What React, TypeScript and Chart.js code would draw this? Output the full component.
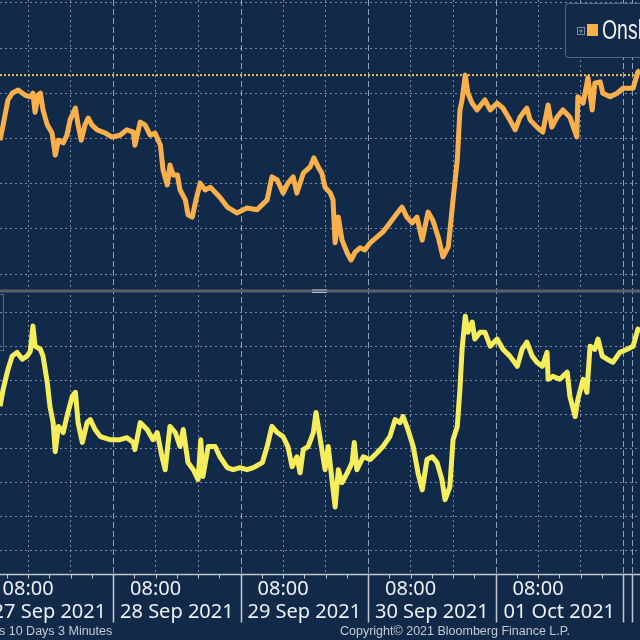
import React, { useEffect, useRef } from 'react';
import { Chart, registerables } from 'chart.js';

Chart.register(...registerables);

// time axis: hours counted from 27 Sep 2021 00:00
const dayLabels = ['27 Sep 2021', '28 Sep 2021', '29 Sep 2021', '30 Sep 2021', '01 Oct 2021'];
const tickTime = '08:00';
const hourMin = 2.7;
const hourMax = 123.2;
const sessionBreak = 121.6;

const onshoreHours = [
  2.7, 3.3, 4.2, 5.0, 6.1, 7.4, 8.4, 8.9, 9.3, 9.9,
  10.3, 10.8, 11.6, 12.5, 13.1, 13.7, 14.6, 15.3, 15.9, 16.9,
  17.4, 18.0, 18.7, 19.3, 20.0, 21.0, 22.5, 23.8, 25.3, 26.6,
  27.8, 28.1, 29.1, 30.0, 31.0, 31.9, 32.9, 33.4, 34.2, 34.7,
  35.3, 36.1, 36.6, 37.6, 38.1, 38.9, 39.6, 40.4, 41.3, 42.3,
  43.2, 44.1, 45.5, 47.3, 49.2, 51.1, 53.0, 53.9, 54.9, 56.0,
  56.9, 57.9, 58.6, 59.8, 61.1, 61.8, 62.6, 63.3, 63.9, 64.9,
  65.4, 65.8, 66.4, 67.1, 68.1, 68.8, 69.6, 70.5, 71.4, 72.4,
  73.7, 74.8, 76.1, 77.5, 78.4, 79.3, 80.3, 81.2, 82.2, 83.3,
  84.2, 85.2, 86.1, 87.1, 88.0, 88.8, 89.3, 89.7, 90.3, 90.8,
  91.6, 92.5, 94.0, 95.0, 96.3, 97.4, 98.7, 99.7, 100.6, 101.9,
  102.5, 103.8, 104.9, 105.9, 106.6, 107.6, 108.7, 110.0, 111.3, 111.5,
  112.5, 113.4, 114.2, 114.7, 115.7, 116.2, 117.6, 118.9, 120.0, 121.9, 122.8, 123.2,
];
const onshoreValues = [
  39.6, 43.0, 48.5, 50.0, 50.7, 49.6, 49.2, 50.0, 45.8, 49.6,
  50.0, 46.3, 43.0, 41.2, 36.3, 39.6, 39.0, 40.7, 44.1, 46.7,
  43.0, 39.6, 43.0, 44.5, 43.0, 41.9, 41.2, 40.3, 40.7, 41.9,
  41.4, 38.5, 43.6, 43.0, 40.7, 41.2, 38.5, 33.0, 29.7, 34.1,
  31.9, 31.9, 28.6, 26.4, 23.1, 22.6, 26.4, 30.1, 28.6, 29.2,
  28.1, 27.0, 24.8, 23.5, 24.6, 24.2, 26.4, 31.5, 30.8, 27.9,
  30.1, 31.5, 27.9, 32.3, 33.7, 35.7, 33.7, 32.3, 29.2, 27.9,
  26.4, 16.9, 22.6, 17.5, 14.6, 13.1, 14.9, 15.8, 15.3, 16.9,
  18.2, 19.3, 21.3, 23.5, 24.8, 22.6, 21.3, 22.6, 17.5, 23.7,
  21.9, 18.2, 13.8, 16.0, 26.4, 35.2, 46.3, 48.5, 54.0, 50.0,
  47.8, 46.3, 48.5, 46.3, 47.8, 46.7, 44.1, 41.9, 44.7, 46.7,
  44.1, 42.5, 41.4, 47.4, 42.5, 44.7, 46.3, 44.7, 40.3, 49.2,
  47.8, 53.4, 46.3, 52.2, 52.5, 50.0, 49.2, 50.0, 51.1, 51.1, 54.7, 55.1,
];
const onshoreRef = 54.0;

const offshoreHours = [
  2.7, 3.3, 4.2, 5.0, 5.9, 6.9, 7.8, 8.4, 8.9, 9.3,
  10.3, 10.8, 11.6, 12.1, 12.7, 13.1, 13.7, 14.6, 15.3, 16.3,
  16.9, 17.4, 18.2, 19.1, 19.7, 20.6, 21.6, 23.4, 25.3, 26.6,
  27.8, 28.1, 29.1, 30.4, 31.5, 32.3, 33.2, 33.8, 34.7, 35.7,
  36.6, 37.2, 38.1, 39.1, 40.0, 40.5, 40.9, 41.9, 43.2, 44.1,
  45.5, 46.6, 47.9, 49.2, 50.4, 52.1, 53.0, 53.9, 54.9, 56.0,
  56.9, 57.7, 58.6, 59.2, 59.8, 60.7, 61.7, 62.2, 63.0, 63.9,
  64.5, 65.2, 65.8, 66.4, 67.1, 68.1, 69.0, 69.4, 69.9, 71.1,
  72.4, 73.7, 74.8, 76.1, 77.1, 78.0, 78.6, 79.5, 80.5, 81.4,
  82.2, 83.1, 84.1, 85.0, 85.9, 86.5, 87.4, 88.0, 88.8, 89.3,
  89.7, 90.3, 90.8, 91.6, 92.1, 93.1, 94.0, 95.0, 96.3, 97.4,
  98.7, 100.1, 101.0, 101.9, 102.9, 103.8, 104.8, 105.7, 105.9, 106.8,
  108.1, 109.5, 110.0, 111.0, 111.5, 112.5, 113.2, 113.8, 114.7, 115.3,
  116.1, 117.0, 118.1, 119.4, 120.8, 121.9, 122.8, 123.2,
];
const offshoreValues = [
  52.4, 57.4, 63.2, 67.1, 68.2, 66.2, 67.1, 68.5, 75.9, 70.0,
  69.1, 67.1, 59.4, 52.4, 47.6, 39.1, 46.5, 44.7, 49.4, 55.3,
  56.5, 47.6, 41.8, 47.6, 48.5, 45.6, 43.5, 42.6, 42.6, 43.2,
  41.8, 39.7, 47.6, 45.6, 42.6, 44.7, 37.6, 33.8, 46.5, 44.7,
  40.6, 45.6, 35.9, 33.8, 30.9, 42.6, 31.8, 40.6, 40.6, 37.6,
  34.4, 33.8, 34.4, 33.8, 34.4, 35.9, 40.6, 46.5, 44.7, 43.5,
  40.6, 34.7, 37.6, 32.9, 39.7, 40.6, 44.7, 50.6, 42.6, 33.8,
  40.6, 30.9, 22.9, 33.8, 30.0, 32.9, 35.9, 41.8, 33.8, 37.6,
  36.8, 38.8, 40.6, 43.5, 48.5, 47.6, 49.4, 45.6, 40.6, 32.9,
  27.9, 36.8, 37.6, 35.9, 30.9, 25.0, 28.8, 42.6, 46.5, 57.4,
  69.1, 78.8, 74.1, 77.1, 72.1, 74.1, 74.1, 70.0, 72.1, 69.1,
  67.1, 64.1, 69.1, 71.2, 67.1, 65.3, 64.1, 68.2, 60.3, 61.2,
  60.3, 62.4, 55.3, 49.4, 54.4, 60.3, 56.5, 70.0, 69.1, 72.1,
  67.1, 66.2, 65.3, 68.2, 69.1, 70.0, 75.0, 74.1,
];

const topGrid = [10, 20, 30, 40, 50, 60, 70];
const bottomGrid = [10, 20, 30, 40, 50, 60, 70, 80];

const navy = '#122a4a';
const gridColor = 'rgba(190, 202, 220, 0.6)';
const orange = '#f9b04b';
const yellow = '#f5ee5a';
const labelColor = '#eef0f3';
const footColor = '#c5cad3';

const gridHours: number[] = [];
for (let h = 0; h <= 120; h += 8) if (h > hourMin && h < hourMax) gridHours.push(h);
const midnights = gridHours.filter((h) => h % 24 === 0);
const fourHourTicks: number[] = [];
for (let h = 4; h <= 120; h += 4) if (h > hourMin && h < hourMax) fourHourTicks.push(h);

const decor = {
  id: 'bbgDecor',
  beforeDraw(chart: any) {
    const { ctx, width, height } = chart;
    ctx.save();
    ctx.fillStyle = navy;
    ctx.fillRect(0, 0, width, height);
    ctx.restore();
  },
  beforeDatasetsDraw(chart: any) {
    const { ctx, chartArea, scales } = chart;
    ctx.save();
    ctx.strokeStyle = 'rgba(200, 210, 226, 0.7)';
    ctx.lineWidth = 1;
    ctx.setLineDash([6, 3]);
    [...midnights, sessionBreak].forEach((h) => {
      const px = Math.round(scales.x.getPixelForValue(h)) + 0.5;
      ctx.beginPath();
      ctx.moveTo(px, chartArea.top);
      ctx.lineTo(px, chartArea.bottom);
      ctx.stroke();
    });
    ctx.restore();
  },
  afterDraw(chart: any) {
    const { ctx, chartArea, scales, width } = chart;
    const x = scales.x;
    ctx.save();

    // divider between the two panes
    const split = scales.yTop.bottom;
    ctx.fillStyle = '#5b5e64';
    ctx.fillRect(0, split - 1.5, width, 3);
    ctx.strokeStyle = '#b9bdc4';
    ctx.lineWidth = 1;
    ctx.beginPath();
    ctx.moveTo(312, split - 1); ctx.lineTo(327, split - 1);
    ctx.moveTo(312, split + 1.5); ctx.lineTo(327, split + 1.5);
    ctx.stroke();

    // time axis
    const base = chartArea.bottom + 0.5;
    ctx.strokeStyle = '#c4c8cf';
    ctx.lineWidth = 1.5;
    ctx.beginPath();
    ctx.moveTo(0, base); ctx.lineTo(width, base);
    ctx.stroke();
    ctx.lineWidth = 1;
    ctx.beginPath();
    fourHourTicks.forEach((h) => {
      const px = Math.round(x.getPixelForValue(h)) + 0.5;
      ctx.moveTo(px, base); ctx.lineTo(px, base + 4);
    });
    ctx.stroke();
    ctx.lineWidth = 1.5;
    ctx.beginPath();
    [...midnights, sessionBreak].forEach((h) => {
      const px = Math.round(x.getPixelForValue(h)) + 0.5;
      ctx.moveTo(px, base); ctx.lineTo(px, base + 48);
    });
    ctx.stroke();

    // date labels, centred in each day
    ctx.fillStyle = labelColor;
    ctx.font = '20px "Noto Sans", sans-serif';
    ctx.textAlign = 'center';
    ctx.textBaseline = 'middle';
    dayLabels.forEach((d, i) => {
      ctx.fillText(d, x.getPixelForValue(24 * i + 12), base + 38);
    });

    // footer
    ctx.fillStyle = footColor;
    ctx.font = '12.5px "Liberation Sans", sans-serif';
    ctx.textAlign = 'left';
    ctx.fillText('s 10 Days 3 Minutes', -1, 632);
    ctx.fillText('Copyright\u00a9 2021 Bloomberg Finance L.P.', 340, 632);

    // legend boxes
    ctx.fillStyle = navy;
    ctx.strokeStyle = '#56677f';
    ctx.lineWidth = 1;
    ctx.beginPath();
    ctx.roundRect(565.5, 3.5, 100, 54, 3);
    ctx.fill();
    ctx.stroke();
    ctx.strokeStyle = '#7d8ba1';
    ctx.strokeRect(577.5, 27.5, 7, 7);
    ctx.beginPath();
    ctx.moveTo(579, 31); ctx.lineTo(583, 31);
    ctx.moveTo(581, 29); ctx.lineTo(581, 33);
    ctx.stroke();
    ctx.fillStyle = orange;
    ctx.fillRect(587, 24, 11, 12);
    ctx.fillStyle = labelColor;
    ctx.font = '27px "Liberation Sans", sans-serif';
    ctx.translate(602, 31);
    ctx.scale(0.72, 1);
    ctx.fillText('Onshore', 0, 1);
    ctx.setTransform(1, 0, 0, 1, 0, 0);
    ctx.strokeStyle = '#56677f';
    ctx.strokeRect(-20.5, 294.5, 24, 56);

    ctx.restore();
  },
};

const hiddenY = {
  type: 'linear' as const,
  position: 'left' as const,
  stack: 'panes',
  afterFit: (axis: any) => { axis.width = 0; },
  grid: { color: gridColor, lineWidth: 1, drawTicks: false },
  border: { display: false, dash: [2, 3] },
  ticks: { display: false },
};

const App: React.FC = () => {
  const canvasRef = useRef<HTMLCanvasElement>(null);
  const chartRef = useRef<Chart>();

  useEffect(() => {
    document.body.style.margin = '0';
    document.body.style.background = navy;
    if (canvasRef.current) {
      const ctx = canvasRef.current.getContext('2d');
      if (ctx) {
        chartRef.current = new Chart(ctx, {
          type: 'line',
          data: {
            datasets: [
              {
                label: 'Onshore',
                data: onshoreHours.map((h, i) => ({ x: h, y: onshoreValues[i] })),
                yAxisID: 'yTop',
                borderColor: orange,
                borderWidth: 5,
                pointRadius: 0,
                borderJoinStyle: 'round',
              },
              {
                label: 'Onshore level',
                data: [{ x: hourMin, y: onshoreRef }, { x: hourMax, y: onshoreRef }],
                yAxisID: 'yTop',
                borderColor: '#e9c25a',
                borderWidth: 2,
                borderDash: [2, 2],
                pointRadius: 0,
              },
              {
                label: 'Offshore',
                data: offshoreHours.map((h, i) => ({ x: h, y: offshoreValues[i] })),
                yAxisID: 'yBot',
                borderColor: yellow,
                borderWidth: 5,
                pointRadius: 0,
                borderJoinStyle: 'round',
              },
            ],
          },
          options: {
            animation: false,
            responsive: true,
            maintainAspectRatio: false,
            layout: { padding: 0, autoPadding: false },
            plugins: { legend: { display: false }, tooltip: { enabled: false } },
            scales: {
              x: {
                type: 'linear',
                position: 'bottom',
                min: hourMin,
                max: hourMax,
                afterBuildTicks: (axis: any) => { axis.ticks = gridHours.map((v) => ({ value: v })); },
                afterFit: (axis: any) => {
                  axis.height = 66;
                  axis.paddingLeft = 0;
                  axis.paddingRight = 0;
                },
                grid: {
                  color: (c: any) => (c.tick && c.tick.value % 24 === 0 ? 'rgba(0,0,0,0)' : gridColor),
                  lineWidth: 1,
                  drawTicks: false,
                },
                border: { display: false, dash: [2, 3] },
                ticks: {
                  autoSkip: false,
                  maxRotation: 0,
                  padding: 3,
                  color: labelColor,
                  font: { family: 'Noto Sans', size: 20, lineHeight: 1.2 },
                  callback: (value: any) => (Number(value) % 24 === 8 ? tickTime : ''),
                },
              },
              // stacked panes: the later one in this list sits on top
              yBot: {
                ...hiddenY,
                stackWeight: 283,
                min: 3.24,
                max: 86.18,
                afterBuildTicks: (axis: any) => { axis.ticks = bottomGrid.map((v) => ({ value: v })); },
              },
              yTop: {
                ...hiddenY,
                stackWeight: 291,
                min: 6.24,
                max: 70.62,
                afterBuildTicks: (axis: any) => { axis.ticks = topGrid.map((v) => ({ value: v })); },
              },
            },
          },
          plugins: [decor],
        } as any);
      }
    }

    return () => {
      if (chartRef.current) {
        chartRef.current.destroy();
      }
    };
  }, []);

  return (
    <div style={{ width: 640, height: 640, position: 'relative', background: navy }}>
      <canvas ref={canvasRef} />
    </div>
  );
};

export default App;
